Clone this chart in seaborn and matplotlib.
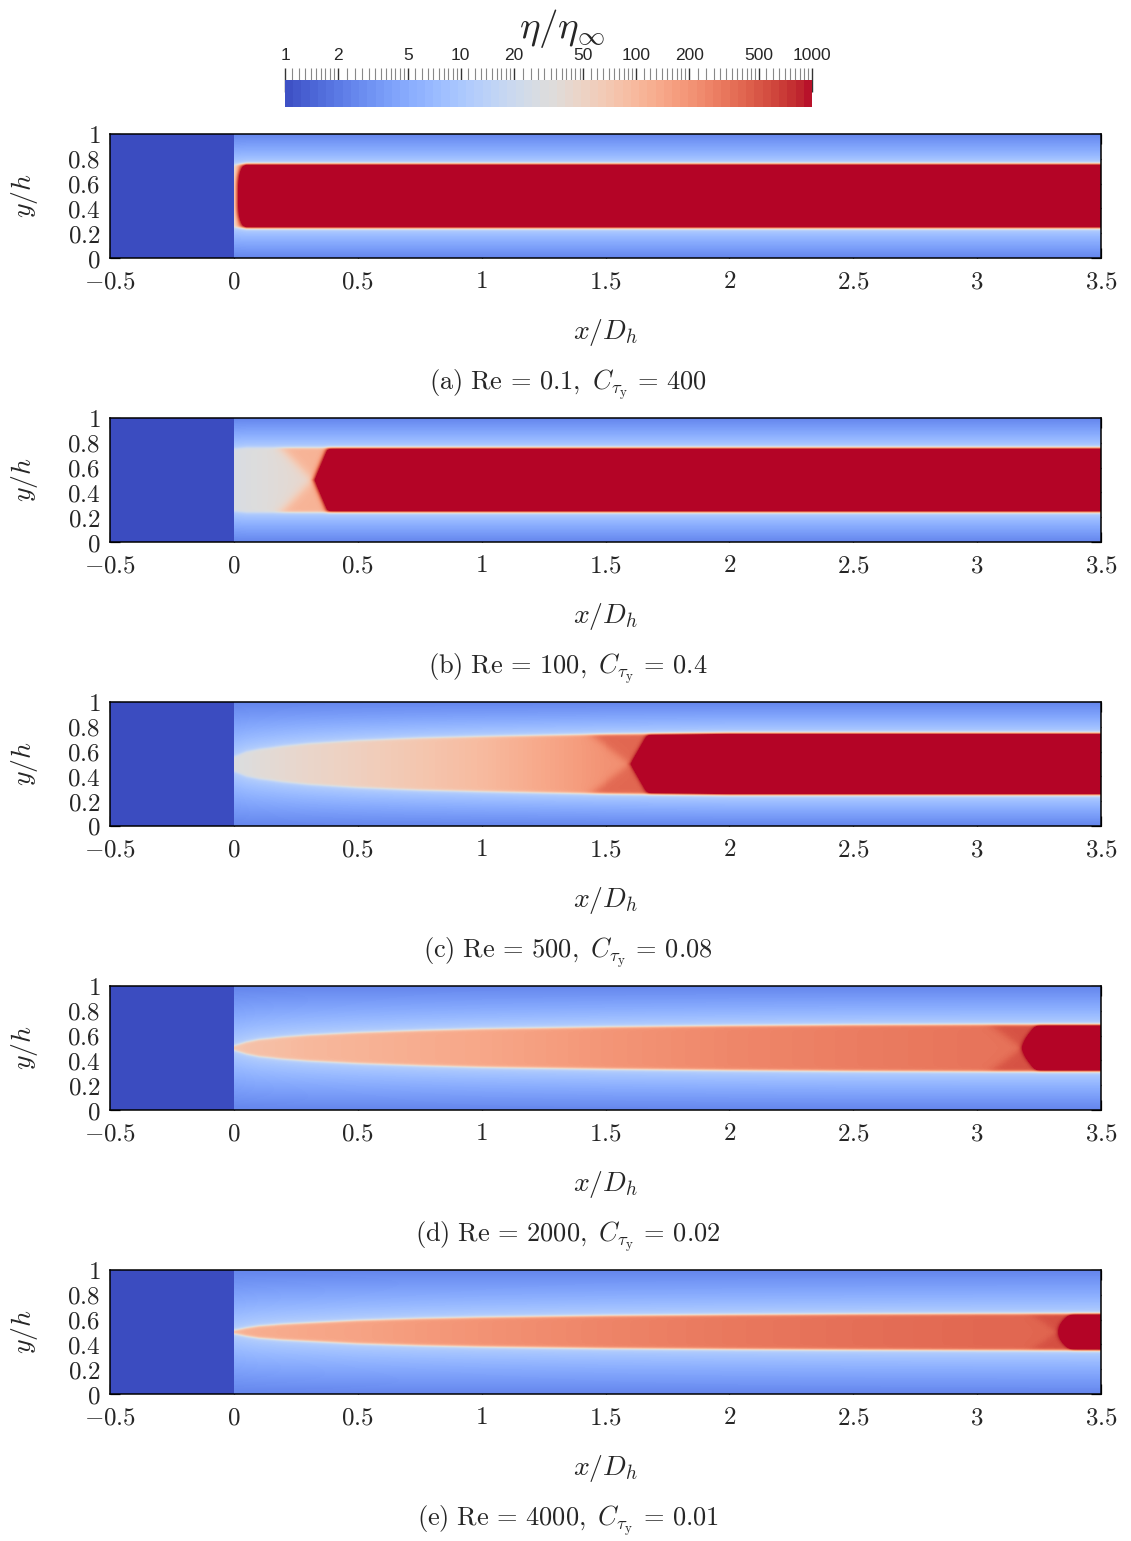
import matplotlib
matplotlib.use("Agg")
import matplotlib.pyplot as plt
import numpy as np
import seaborn as sns
from matplotlib.cm import ScalarMappable
from matplotlib.colors import ListedColormap, LogNorm

# panel captions
LABELS = ["a", "b", "c", "d", "e"]
REYNOLDS = ["0.1", "100", "500", "2000", "4000"]
C_TAU_Y = ["400", "0.4", "0.08", "0.02", "0.01"]

X_STATIONS = [0.0, 0.05, 0.1, 0.2, 0.3, 0.5, 0.75, 1.0, 1.5, 2.0, 2.5, 3.0, 3.5]
CORE_HALF_WIDTH = [
    [0.25, 0.26, 0.26, 0.26, 0.26, 0.26, 0.26, 0.26, 0.26, 0.26, 0.26, 0.26, 0.26],
    [0.25, 0.26, 0.26, 0.26, 0.26, 0.26, 0.26, 0.26, 0.26, 0.26, 0.26, 0.26, 0.26],
    [0.06, 0.10, 0.12, 0.145, 0.165, 0.19, 0.21, 0.222, 0.24, 0.25, 0.25, 0.25, 0.25],
    [0.02, 0.05, 0.07, 0.09, 0.105, 0.125, 0.142, 0.155, 0.17, 0.18, 0.187, 0.19, 0.19],
    [0.015, 0.035, 0.05, 0.065, 0.075, 0.095, 0.11, 0.12, 0.133, 0.14, 0.145, 0.148, 0.15],
]
CORE_VISCOSITY = [
    [10, 10, 10, 10, 10, 10, 10, 10, 10, 10, 10, 10, 10],
    [28, 30, 32, 36, 42, 60, 60, 60, 60, 60, 60, 60, 60],
    [30, 32, 35, 40, 45, 55, 72, 95, 200, 250, 250, 250, 250],
    [70, 80, 85, 90, 100, 110, 125, 140, 190, 240, 280, 320, 330],
    [100, 120, 125, 130, 140, 150, 175, 200, 250, 300, 340, 380, 400],
]
# unyielded plug: tip on the centre line, front/back slopes towards the core edge
PLUG_TIP = [0.012, 0.32, 1.60, 3.18, 3.33]
PLUG_FRONT_SLOPE = [0.03, 0.055, 0.07, 0.06, 0.05]
PLUG_FRONT_SHAPE = [4.0, 1.0, 1.0, 1.5, 2.0]
WEDGE_BACK_SLOPE = [0.0, 0.13, 0.16, 0.13, 0.12]
WEDGE_VISCOSITY = [1000, 110, 380, 500, 520]

INLET_VISCOSITY = 1.0
WALL_VISCOSITY = 2.5
EDGE_VISCOSITY = 14.0

X_MIN, X_MAX = -0.5, 3.5
NX, NY = 1000, 250
X_TICKS = [-0.5, 0, 0.5, 1, 1.5, 2, 2.5, 3, 3.5]
X_TICK_LABELS = ["$-0.5$", "$0$", "$0.5$", "$1$", "$1.5$", "$2$", "$2.5$", "$3$", "$3.5$"]
Y_TICKS = [0, 0.2, 0.4, 0.6, 0.8, 1]
Y_TICK_LABELS = ["$0$", "$0.2$", "$0.4$", "$0.6$", "$0.8$", "$1$"]
CBAR_TICKS = [1, 2, 5, 10, 20, 50, 100, 200, 500, 1000]


def sigmoid(z):
    return 0.5 * (1.0 + np.tanh(z))


def build_field(i):
    xc = X_MIN + (np.arange(NX) + 0.5) * (X_MAX - X_MIN) / NX
    yc = (np.arange(NY) + 0.5) / NY
    X, Y = np.meshgrid(xc, yc)
    r = np.abs(Y - 0.5)

    hw = np.interp(X, X_STATIONS, CORE_HALF_WIDTH[i])
    u = np.clip((r - hw) / (0.5 - hw), 0, 1)
    lo, hi = np.log10(WALL_VISCOSITY), np.log10(EDGE_VISCOSITY)
    log_out = hi - (hi - lo) * u ** 0.7

    log_core = np.interp(X, X_STATIONS, np.log10(CORE_VISCOSITY[i]))
    s = np.clip(r / hw, 0, 1)
    front = PLUG_TIP[i] + PLUG_FRONT_SLOPE[i] * s ** PLUG_FRONT_SHAPE[i]
    back = PLUG_TIP[i] - WEDGE_BACK_SLOPE[i] * s
    w_back = sigmoid((X - back) / 0.03)
    w_front = sigmoid((X - front) / 0.012)
    log_core = log_core * (1 - w_back) + np.log10(WEDGE_VISCOSITY[i]) * w_back
    log_core = log_core * (1 - w_front) + 3.3 * w_front

    t = sigmoid((hw - r) / 0.012)
    field = log_out * (1 - t) + log_core * t
    field[X < 0] = np.log10(INLET_VISCOSITY)
    return field


sns.set_theme(style="ticks")
plt.rcParams["font.family"] = ["DejaVu Serif"]
plt.rcParams["mathtext.fontset"] = "cm"

W, H = 1131, 1541
fig = plt.figure(figsize=(W / 100, H / 100), dpi=100)
cmap = sns.color_palette("coolwarm", as_cmap=True)

for i in range(5):
    bottom_px = 258 + 284 * i
    ax = fig.add_axes([110 / W, 1 - bottom_px / H, 991 / W, 124 / H])
    sns.heatmap(build_field(i), ax=ax, cmap=cmap, vmin=0, vmax=3, cbar=False,
                xticklabels=False, yticklabels=False, rasterized=True)
    ax.set_xlim(0, NX)
    ax.set_ylim(0, NY)
    for sp in ax.spines.values():
        sp.set_visible(True)
        sp.set_color("black")
        sp.set_linewidth(1.1)

    ax.set_xticks([(x - X_MIN) / (X_MAX - X_MIN) * NX for x in X_TICKS])
    ax.set_xticklabels(X_TICK_LABELS)
    ax.set_yticks([y * NY for y in Y_TICKS])
    ax.set_yticklabels(Y_TICK_LABELS)
    ax.tick_params(direction="in", length=7.5, width=0.9, color="black",
                   top=True, right=True, labelsize=18, pad=7)
    ax.tick_params(axis="x", pad=9)

    ax.set_xlabel("$x/D_h$", fontsize=20)
    ax.xaxis.label.set_va("center")
    ax.xaxis.set_label_coords(0.5, -0.6)
    ax.set_ylabel("$y/h$", fontsize=20)
    ax.yaxis.label.set_va("center")
    ax.yaxis.set_label_coords(-0.086, 0.5)

    caption = (r"$\mathrm{(%s)\ Re}\,=\,%s,\ C_{\tau_{\mathrm{y}}}\,=\,%s$"
               % (LABELS[i], REYNOLDS[i], C_TAU_Y[i]))
    ax.text((568 - 110) / 991, -1.03, caption, transform=ax.transAxes,
            ha="center", va="center", fontsize=19)

# colour bar on top
cax = fig.add_axes([285 / W, 1 - 107 / H, 527 / W, 27 / H])
banded = ListedColormap(sns.color_palette("coolwarm", 64))
sm = ScalarMappable(norm=LogNorm(1, 1000), cmap=banded)
cb = fig.colorbar(sm, cax=cax, orientation="horizontal")
cb.outline.set_visible(False)
cax.xaxis.set_ticks_position("top")
cax.set_xticks(CBAR_TICKS)
cax.set_xticklabels([str(t) for t in CBAR_TICKS], family="Liberation Sans")
minor = []
for dec in [1, 10, 100]:
    minor += [dec * v for v in np.arange(1.1, 2.0, 0.1)]
    minor += [dec * v for v in np.arange(2.25, 5.0, 0.25)]
    minor += [dec * v for v in np.arange(5.5, 10.0, 0.5)]
cax.set_xticks(minor, minor=True)
cax.xaxis.set_minor_formatter(plt.NullFormatter())
cax.tick_params(which="major", direction="inout", length=17, width=1.0,
                color="#333333", labelsize=12.5, pad=4, top=True, bottom=False)
cax.tick_params(which="minor", direction="out", length=8.5, width=0.8,
                color="#888888", top=True, bottom=False)
fig.text(562 / W, 1 - 28 / H, r"$\eta/\eta_\infty$", ha="center", va="center",
         fontsize=28)

fig.savefig("out.png", dpi=100)
